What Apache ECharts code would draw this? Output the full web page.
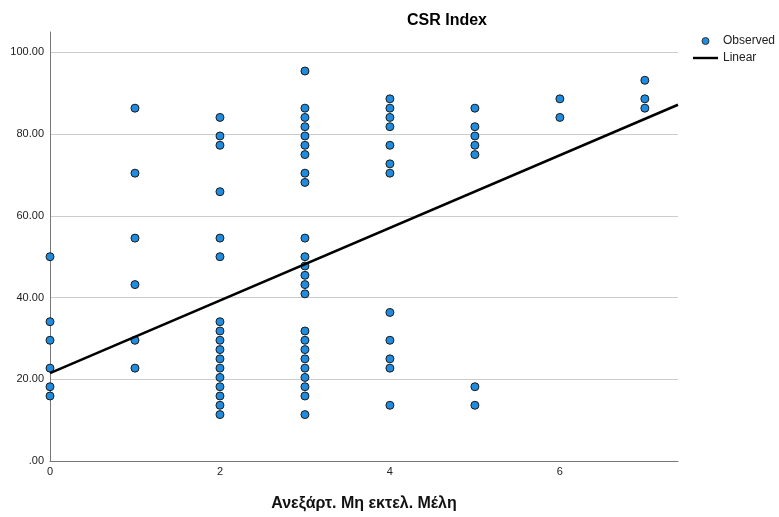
<!DOCTYPE html>
<html>
<head>
	<meta charset="utf-8" />
	<title>CSR Index</title>
	<style type="text/css">
	*{margin: 0;padding: 0;}
	#chart{width: 779px;height: 517px;}
	</style>
</head>
<body>
<div id="chart"></div>
<script src="https://cdn.jsdelivr.net/npm/echarts@6/dist/echarts.min.js"></script>
<script type="text/javascript">
	// CSR Index values per number of independent non-executive members (x)
	var obs0 = [50.00, 34.09, 29.55, 22.73, 18.18, 15.91];
	var obs1 = [86.36, 70.45, 54.55, 43.18, 29.55, 22.73];
	var obs2 = [84.09, 79.55, 77.27, 65.91, 54.55, 50.00, 34.09, 31.82, 29.55, 27.27, 25.00, 22.73, 20.45, 18.18, 15.91, 13.64, 11.36];
	var obs3 = [95.45, 86.36, 84.09, 81.82, 79.55, 77.27, 75.00, 70.45, 68.18, 54.55, 50.00, 47.73, 45.45, 43.18, 40.91,
	            31.82, 29.55, 27.27, 25.00, 22.73, 20.45, 18.18, 15.91, 11.36];
	var obs4 = [88.64, 86.36, 84.09, 81.82, 77.27, 72.73, 70.45, 36.36, 29.55, 25.00, 22.73, 13.64];
	var obs5 = [86.36, 81.82, 79.55, 77.27, 75.00, 18.18, 13.64];
	var obs6 = [88.64, 84.09];
	var obs7 = [93.18, 88.64, 86.36];

	// fitted line, read at both ends of the x range
	var fitX = [0, 7.39];
	var fitY = [21.5, 87.2];

	var yTicks = [0, 20, 40, 60, 80, 100];

	var groups = [obs0, obs1, obs2, obs3, obs4, obs5, obs6, obs7];
	var points = [];
	for (var i = 0; i < groups.length; i++) {
		for (var j = 0; j < groups[i].length; j++) {
			points.push([i, groups[i][j]]);
		}
	}
	var fitLine = [];
	for (var k = 0; k < fitX.length; k++) {
		fitLine.push([fitX[k], fitY[k]]);
	}

	var font = "'Liberation Sans', Arial, sans-serif";

	var opt = {
		animation: false,
		textStyle: {fontFamily: font},
		title: {
			text: 'CSR Index',
			left: 402,
			top: 8,
			textStyle: {fontSize: 16, fontWeight: 'bold', color: '#000', fontFamily: font}
		},
		legend: {
			orient: 'vertical',
			left: 688,
			top: 29,
			itemWidth: 25,
			itemHeight: 7,
			itemGap: 3,
			textStyle: {fontSize: 12, color: '#222', lineHeight: 14, fontFamily: font},
			data: [
				{name: 'Observed', icon: 'circle', itemStyle: {borderWidth: 0.8}},
				{name: 'Linear', icon: 'path://M0,0 L26,0 L26,2.5 L0,2.5 Z'}
			]
		},
		grid: {left: 50, right: 101, top: 32, bottom: 56},
		xAxis: {
			type: 'value',
			min: 0,
			max: fitX[1],
			interval: 2,
			name: 'Ανεξάρτ. Μη εκτελ. Μέλη',
			nameLocation: 'middle',
			nameGap: 35,
			nameTextStyle: {fontSize: 16, fontWeight: 'bold', color: '#111', fontFamily: font},
			axisLine: {lineStyle: {color: '#777', width: 1}},
			axisTick: {show: false},
			splitLine: {show: false},
			axisLabel: {fontSize: 11, color: '#222', margin: 5, showMaxLabel: false, fontFamily: font}
		},
		yAxis: {
			type: 'value',
			min: 0,
			max: 105,
			interval: 20,
			axisLine: {show: true, lineStyle: {color: '#777', width: 1}},
			axisTick: {show: false},
			splitLine: {show: true, showMinLine: false, showMaxLine: false, lineStyle: {color: '#cccccc', width: 1}},
			axisLabel: {
				fontSize: 11, color: '#222', margin: 6, showMaxLabel: false, fontFamily: font,
				formatter: function (v) {
					if (yTicks.indexOf(v) < 0) return '';
					return v === 0 ? '.00' : v.toFixed(2);
				}
			}
		},
		series: [
			{
				name: 'Observed',
				type: 'scatter',
				symbol: 'circle',
				symbolSize: 8,
				itemStyle: {color: '#1f8ce0', borderColor: '#1a1a1a', borderWidth: 1, opacity: 1},
				data: points,
				z: 2
			},
			{
				name: 'Linear',
				type: 'line',
				symbol: 'none',
				lineStyle: {color: '#000', width: 2.5},
				itemStyle: {color: '#000'},
				data: fitLine,
				z: 3
			}
		]
	};

	var chart = echarts.init(document.getElementById('chart'));
	chart.setOption(opt);
</script>
</body>
</html>
